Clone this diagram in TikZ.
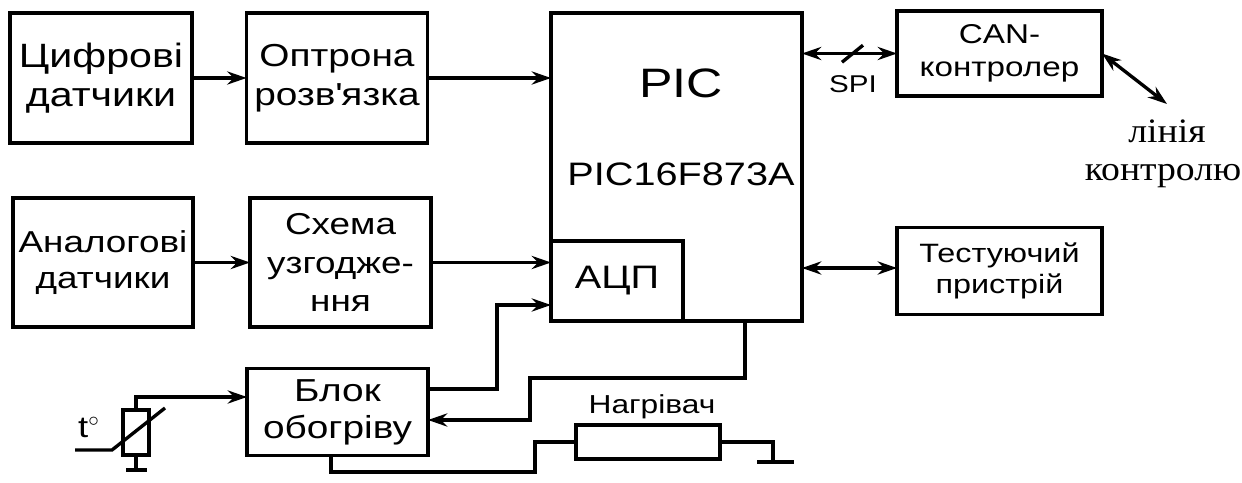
\documentclass[tikz,border=0pt]{standalone}
\usepackage{fontspec}
\setmainfont{Liberation Sans}[FakeStretch=1.22]
\newfontfamily\serifschrift{Liberation Serif}[FakeStretch=1.1]
\usetikzlibrary{positioning, calc, arrows.meta}
\tikzset{
  block/.style={draw, line width=2.1pt, inner sep=0pt, outer sep=0pt, align=center},
  leitung/.style={line width=1.9pt},
  pfeil/.style={leitung, -{Stealth[length=11pt, width=7.5pt]}},
  doppelpfeil/.style={leitung, {Stealth[length=11pt, width=7.5pt]}-{Stealth[length=11pt, width=7.5pt]}},
  schrift/.style 2 args={font=\fontsize{#1}{#2}\selectfont}
}
\begin{document}
\begin{tikzpicture}[x=0.02cm, y=-0.02cm]
  \useasboundingbox (0,0) rectangle (1242,483);

  % Blöcke links
  \node[block, schrift={19.2}{22}, minimum width=3.64cm, minimum height=2.6cm] (digital) at (101,78) {Цифрові\\датчики};
  \node[block, schrift={18.1}{22}, minimum width=3.62cm, minimum height=2.6cm] (opto) at (337,78) {Оптрона\\розв\textquotesingle язка};
  \node[block, schrift={17.2}{20.5}, minimum width=3.6cm, minimum height=2.58cm] (analog) at (103,262.5) {Аналогові\\датчики};
  \node[block, schrift={17.2}{22}, minimum width=3.62cm, minimum height=2.58cm] (match) at (340.5,262.5) {Схема\\узгодже-\\ння};
  \node[block, schrift={18.1}{21}, minimum width=3.62cm, minimum height=1.74cm] (heat) at (337.5,412) {Блок\\обогріву};

  % Mikrocontroller mit ADC
  \node[block, minimum width=5.02cm, minimum height=6.16cm] (pic) at (676.5,167) {};
  \node[block, schrift={18.5}{20}, minimum width=2.64cm, minimum height=1.6cm, anchor=south west] (adc) at (pic.south west) {АЦП};
  \node[schrift={23.4}{26}] (pictitle) at (681,83) {PIC};
  \node[schrift={18.5}{20}] (pictype) at (681,174) {PIC16F873A};

  % Blöcke rechts
  \node[block, schrift={15.5}{19}, minimum width=4.1cm, minimum height=1.7cm] (can) at (999.5,53.5) {CAN-\\контролер};
  \node[block, schrift={15.1}{18}, minimum width=4.1cm, minimum height=1.74cm] (test) at (999.5,271) {Тестуючий\\пристрій};
  \node[schrift={13.8}{16}] (spi) at (853,84) {SPI};
  \node[font=\serifschrift\fontsize{19.5}{23}\selectfont] (line) at (1167,131) {лінія};
  \node[font=\serifschrift\fontsize{19.5}{23}\selectfont] (control) at (1163,176) {контролю};
  \coordinate (lineend) at (1167,104);

  % Heizwiderstand und Masse
  \node[block, line width=1.9pt, minimum width=2.88cm, minimum height=0.68cm] (heater) at (648,442) {};
  \node[schrift={14.8}{18}] (heatlabel) at (652,407) {Нагрівач};

  % Thermistor
  \node[schrift={17}{20}, anchor=west] (temp) at (72,427) {t$^{\circ}$};
  \node[block, minimum width=0.52cm, minimum height=0.9cm] (therm) at (136,432.5) {};
  \coordinate (thermin) at (75,450);
  \coordinate (thermknick) at (112,450);
  \coordinate (thermout) at (165,408);
  \coordinate (thermgnd) at (136,470);
  \coordinate (heatgnd) at (773,462);

  % Signalpfeile
  \draw[pfeil] (digital.east) -- (opto.west);
  \draw[pfeil] (opto.east) -- (opto.east -| pic.west);
  \draw[pfeil] (analog.east) -- (match.west);
  \draw[pfeil] (match.east) -- (match.east -| adc.west);
  \draw[doppelpfeil] (pic.east |- can.west) -- (can.west);
  \draw[doppelpfeil] (pic.east |- 0,268) -- (test.west |- 0,268);
  \draw[doppelpfeil] (can.east) -- (lineend);
  \draw[leitung] ($(spi.north)+(-11,-7)$) -- ($(spi.north)+(10,-24)$);

  % Leitungen am Heizblock
  \draw[pfeil] (heat.east |- 0,389) -| (497,305) -- (adc.west |- 0,305);
  \draw[pfeil] (745,321) |- (530,378) |- (heat.east |- 0,420);
  \draw[leitung] (331,455) |- (535,472) |- (heater.west);
  \draw[leitung] (heater.east) -| (heatgnd);
  \draw[leitung] ($(heatgnd)+(-16,0)$) -- ($(heatgnd)+(21,0)$);

  % Thermistor anschliessen
  \draw[pfeil] (therm.north) |- (heat.west |- 0,397);
  \draw[leitung] (thermin) -- (thermknick) -- (thermout);
  \draw[leitung] (therm.south) -- (thermgnd);
  \draw[leitung] ($(thermgnd)+(-10,0)$) -- ($(thermgnd)+(11,0)$);
\end{tikzpicture}
\end{document}
